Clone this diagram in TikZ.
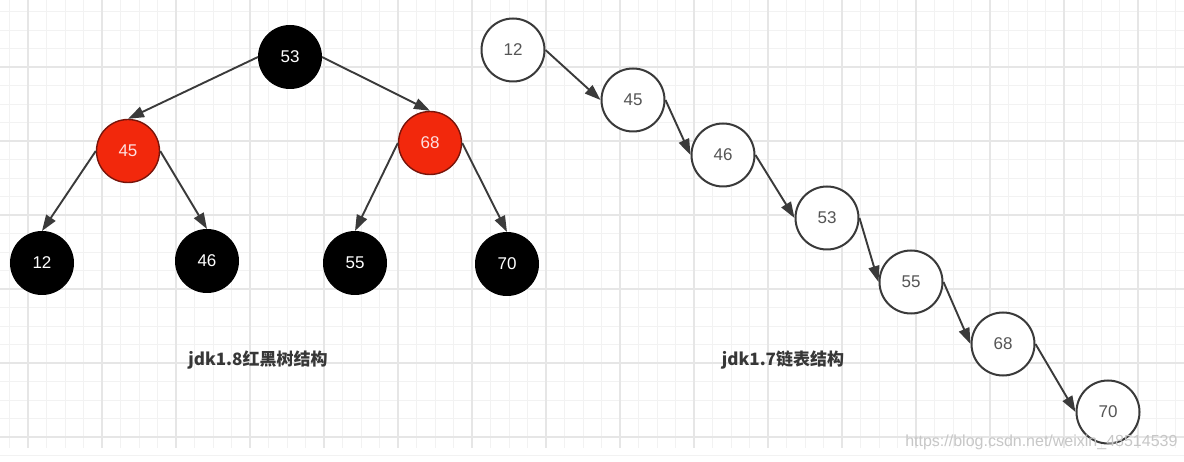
\documentclass[tikz,border=0pt]{standalone}
\usepackage{fontspec}
\setmainfont{Liberation Sans}
\newfontfamily\cjk{Noto Sans CJK SC}
\usetikzlibrary{arrows.meta}
\definecolor{rbred}{RGB}{242,40,12}
\definecolor{rbdark}{RGB}{120,20,10}
\definecolor{edgegray}{RGB}{58,58,58}
\definecolor{numgray}{RGB}{85,85,85}
\definecolor{labelgray}{RGB}{55,55,55}
\definecolor{gridminor}{RGB}{242,242,242}
\definecolor{gridmajor}{RGB}{230,230,230}
\begin{document}
\begin{tikzpicture}[x=1pt,y=-1pt,
  rbnode/.style={circle, minimum size=63pt, inner sep=0pt, font=\fontsize{17}{17}\selectfont},
  blacknode/.style={rbnode, fill=black, draw=black, line width=1pt, text=white},
  rednode/.style={rbnode, fill=rbred, draw=rbdark, line width=1.4pt, text=red!12},
  listnode/.style={rbnode, fill=white, draw=edgegray, line width=2pt, text=numgray},
  edge/.style={draw=edgegray, line width=1.9pt, -{Triangle[length=16pt,width=11pt]}},
  caption/.style={font=\cjk\bfseries\fontsize{17}{17}\selectfont, text=labelgray},
  minorline/.style={draw=gridminor, line width=0.8pt},
  majorline/.style={draw=gridmajor, line width=1.1pt}
]
\useasboundingbox (0,0) rectangle (1184,462);
\fill[white] (0,0) rectangle (1184,462);
% grid
\foreach \i in {0,...,63} {
  \draw[minorline] ({9.5+18.5*\i},0) -- ({9.5+18.5*\i},448);
}
\foreach \j in {0,...,24} {
  \draw[minorline] (0,{11.5+18.5*\j}) -- (1184,{11.5+18.5*\j});
}
\foreach \i in {0,...,15} {
  \draw[majorline] ({28+74*\i},0) -- ({28+74*\i},448);
}
\foreach \j in {0,...,5} {
  \draw[majorline] (0,{67+74*\j}) -- (1184,{67+74*\j});
}

% red-black tree
\node[blacknode] (t53) at (290,57) {53};
\node[rednode]   (t45) at (128,151) {45};
\node[rednode]   (t68) at (430,143) {68};
\node[blacknode] (t12) at (42,263) {12};
\node[blacknode] (t46) at (207,261) {46};
\node[blacknode] (t55) at (355,263) {55};
\node[blacknode] (t70) at (507,264) {70};

\draw[edge] (t53.west) -- (t45.north);
\draw[edge] (t53.east) -- (t68.north);
\draw[edge] (t45.west) -- (t12.north);
\draw[edge] (t45.east) -- (t46.north);
\draw[edge] (t68.west) -- (t55.north);
\draw[edge] (t68.east) -- (t70.north);

% linked list
\node[listnode] (l12) at (513,50) {12};
\node[listnode] (l45) at (633,100) {45};
\node[listnode] (l46) at (723,155) {46};
\node[listnode] (l53) at (827,218) {53};
\node[listnode] (l55) at (911,282) {55};
\node[listnode] (l68) at (1003,344) {68};
\node[listnode] (l70) at (1108,412) {70};

\draw[edge] (l12.east) -- (l45.west);
\draw[edge] (l45.east) -- (l46.west);
\draw[edge] (l46.east) -- (l53.west);
\draw[edge] (l53.east) -- (l55.west);
\draw[edge] (l55.east) -- (l68.west);
\draw[edge] (l68.east) -- (l70.west);

% captions
\node[caption] (cap1) at (258,360) {jdk1.8红黑树结构};
\node[caption] (cap2) at (783,360) {jdk1.7链表结构};

% watermark
\node[anchor=east, font=\fontsize{16}{16}\selectfont, text=black!22] (wm) at (1181,442) {https://blog.csdn.net/weixin\_48514539};
\end{tikzpicture}
\end{document}
